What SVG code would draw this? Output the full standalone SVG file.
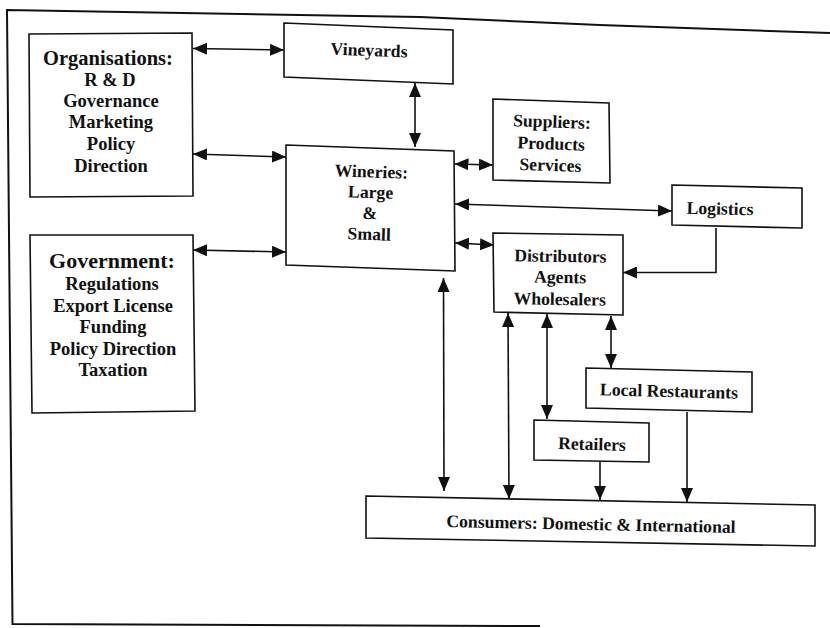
<svg xmlns="http://www.w3.org/2000/svg" width="830" height="628" viewBox="0 0 830 628">
  <style>
    .box { fill: #ffffff; stroke: #111111; stroke-width: 1.6; stroke-linejoin: miter; }
    .frame { fill: none; stroke: #111111; stroke-width: 2; }
    .link { fill: none; stroke: #111111; stroke-width: 1.6; }
    .two { marker-start: url(#head); marker-end: url(#head); }
    .one { marker-end: url(#head); }
    text { font-family: "Liberation Serif", "Times New Roman", serif; font-weight: bold; fill: #111111; text-anchor: middle; }
    .t { font-size: 17.7px; }
    .tb { font-size: 18.5px; }
  </style>
  <defs>
    <marker id="head" viewBox="0 0 14 12" refX="14" refY="6" markerWidth="14" markerHeight="12" markerUnits="userSpaceOnUse" orient="auto-start-reverse">
      <path d="M0,0 L14,6 L0,12 Z" fill="#111111"/>
    </marker>
  </defs>

  <rect width="830" height="628" fill="#ffffff"/>

  <!-- outer frame (open on the right) -->
  <polyline class="frame" points="830,33 600,25 420,17 7,10 12.5,624 540,626"/>

  <!-- connectors -->
  <g id="connectors">
    <line class="link two" x1="193" y1="48.5" x2="284" y2="50"/>
    <line class="link two" x1="193" y1="154" x2="286" y2="157"/>
    <line class="link two" x1="193" y1="250" x2="286" y2="252"/>
    <line class="link two" x1="415" y1="83" x2="415" y2="147"/>
    <line class="link two" x1="454.5" y1="164" x2="493" y2="165"/>
    <line class="link two" x1="455" y1="204" x2="672" y2="211"/>
    <line class="link two" x1="455" y1="243" x2="494" y2="245"/>
    <polyline class="link one" points="716,228 716,272.5 623,272.5"/>
    <line class="link two" x1="443.5" y1="278" x2="444" y2="491"/>
    <line class="link two" x1="508" y1="313" x2="509" y2="499"/>
    <line class="link two" x1="547" y1="314" x2="547" y2="419"/>
    <line class="link two" x1="611" y1="316" x2="611" y2="368"/>
    <line class="link one" x1="600" y1="462" x2="600" y2="500"/>
    <line class="link one" x1="687" y1="412" x2="687" y2="502"/>
  </g>

  <g id="organisations">
    <polygon class="box" points="29,34 192,33 193,196 30,197"/>
    <text x="108" y="65" style="font-size:20.5px">Organisations:</text>
    <text class="tb" x="110" y="85.5">R &amp; D</text>
    <text class="tb" x="111" y="107">Governance</text>
    <text class="tb" x="111" y="128">Marketing</text>
    <text class="tb" x="111" y="150">Policy</text>
    <text class="tb" x="111" y="171.5">Direction</text>
  </g>

  <g id="government">
    <polygon class="box" points="30,235 193,235 195,411 32,413"/>
    <text x="112" y="268" style="font-size:22px">Government:</text>
    <text class="tb" x="112" y="290">Regulations</text>
    <text class="tb" x="113" y="311.5">Export License</text>
    <text class="tb" x="113" y="333">Funding</text>
    <text class="tb" x="113" y="355">Policy Direction</text>
    <text class="tb" x="113" y="376">Taxation</text>
  </g>

  <g id="vineyards">
    <polygon class="box" points="284,23 453,30 453,84 284,77"/>
    <text class="t" x="369" y="56" transform="rotate(2.3 369 52)">Vineyards</text>
  </g>

  <g id="wineries">
    <polygon class="box" points="286,145 454,151 455,271 286,265"/>
    <g transform="rotate(2 370 210)">
      <text class="t" x="370" y="177.5">Wineries:</text>
      <text class="t" x="370" y="198">Large</text>
      <text class="t" x="370" y="219">&amp;</text>
      <text class="t" x="370" y="240">Small</text>
    </g>
  </g>

  <g id="suppliers">
    <polygon class="box" points="493,99 609,103 610,183 493,180"/>
    <g transform="rotate(2 551 148)">
      <text class="t" x="551" y="127.5">Suppliers:</text>
      <text class="t" x="551" y="149.5">Products</text>
      <text class="t" x="551" y="171">Services</text>
    </g>
  </g>

  <g id="logistics">
    <polygon class="box" points="672,185 802,188 802,228 672,225"/>
    <text class="t" x="720" y="214.5" transform="rotate(1.3 720 209)">Logistics</text>
  </g>

  <g id="distributors">
    <polygon class="box" points="493,233 623,235 623,315 494,312"/>
    <g transform="rotate(0.9 560 283)">
      <text class="t" x="560" y="262">Distributors</text>
      <text class="t" x="560" y="283">Agents</text>
      <text class="t" x="560" y="305">Wholesalers</text>
    </g>
  </g>

  <g id="local-restaurants">
    <polygon class="box" points="586,368 752,372 752,412 586,408"/>
    <text class="t" x="669" y="397" transform="rotate(1.4 669 391)">Local Restaurants</text>
  </g>

  <g id="retailers">
    <polygon class="box" points="534,420 649,423 649,462 534,460"/>
    <text class="t" x="592" y="450" transform="rotate(1.5 592 444)">Retailers</text>
  </g>

  <g id="consumers">
    <polygon class="box" points="366,496 815,505 815,546 366,538"/>
    <text class="t" x="591" y="530" transform="rotate(1.15 591 524)">Consumers: Domestic &amp; International</text>
  </g>
</svg>
